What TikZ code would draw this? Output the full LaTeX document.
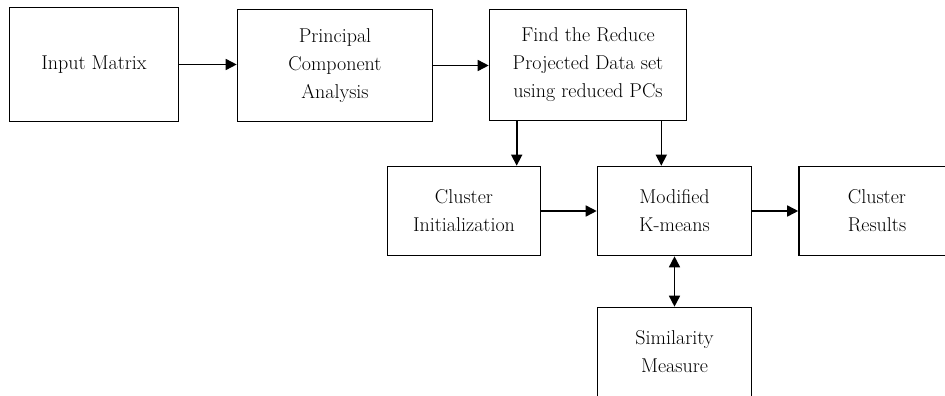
\documentclass[tikz,border=0pt]{standalone}
\usepackage{fontspec}
\usetikzlibrary{arrows.meta}
\tikzset{
  ->/.style={draw=black,line width=1.6pt,-{Triangle[length=11pt,width=11pt]}},
  <->/.style={draw=black,line width=1.6pt,{Triangle[length=11pt,width=11pt]}-{Triangle[length=11pt,width=11pt]}},
  box/.style={draw=black,line width=1.6pt,align=center,inner sep=0pt}
}
\tikzstyle{every node}=[color=black,font=\fontsize{20}{28}\selectfont]

\begin{document}
\begin{tikzpicture}[x=1pt,y=-1pt]
    \useasboundingbox (0,0) rectangle (945,396);
    \node[box,minimum width=169,minimum height=114] (input) at (94,64.5) {Input Matrix};
    \node[box,minimum width=195,minimum height=112] (pca) at (335,65.5) {Principal\\Component\\Analysis};
    \node[box,minimum width=197,minimum height=111] (find) at (588,65) {Find the Reduce\\Projected Data set\\using reduced PCs};
    \node[box,minimum width=153,minimum height=89] (init) at (464,211) {Cluster\\Initialization};
    \node[box,minimum width=154,minimum height=89] (kmeans) at (674.5,211) {Modified\\K-means};
    \node[box,minimum width=156,minimum height=89] (results) at (877,211) {Cluster\\Results};
    \node[box,minimum width=154,minimum height=89] (similar) at (674.5,352) {Similarity\\Measure};
    \coordinate (f1) at ([xshift=28]find.south west);
    \coordinate (f2) at ([xshift=-26]find.south east);
    \draw [->] (input.east) -- (input.east -| pca.west);
    \draw [->] (pca.east) -- (pca.east -| find.west);
    \draw [->] (f1) -- (f1 |- init.north);
    \draw [->] (f2) -- (f2 |- kmeans.north);
    \draw [->] (init) -- (kmeans);
    \draw [->] (kmeans) -- (results);
    \draw [<->] (kmeans) -- (similar);
\end{tikzpicture}
\end{document}
